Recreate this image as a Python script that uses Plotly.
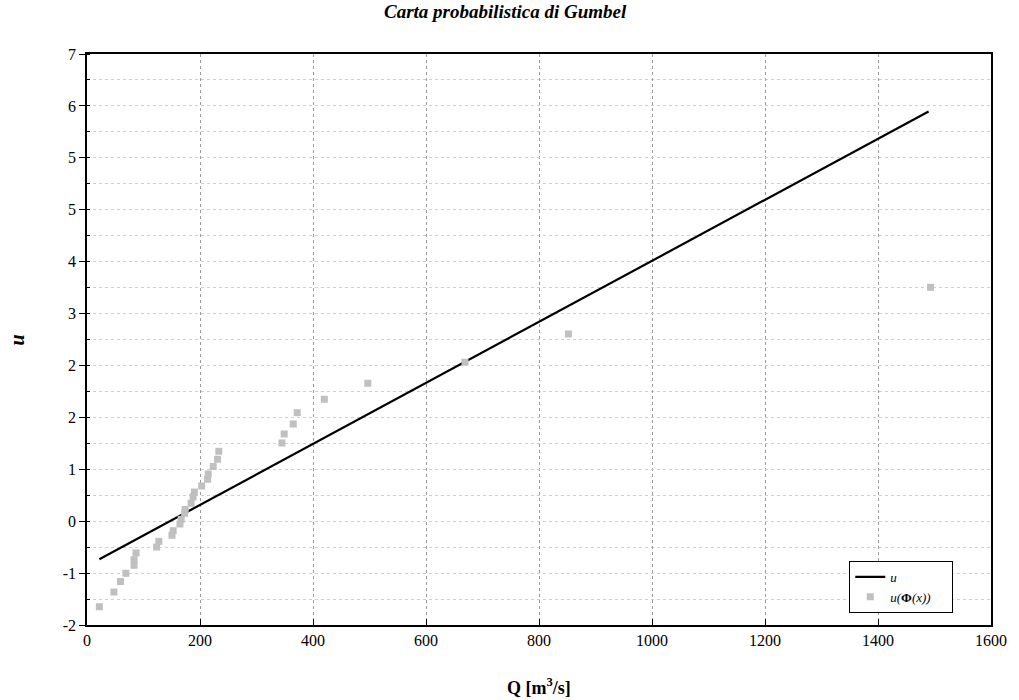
import plotly.graph_objects as go

# Observed data: discharge Q [m3/s] and reduced variate (axis units)
q_obs = [21.9, 47.7, 59.3, 68.8, 83.3, 83.3, 86.8, 123.2, 127.2, 150.4, 152.6,
         164.6, 166.7, 172.8, 173.7, 184.2, 187.7, 190.0, 203.0, 213.5, 214.6,
         223.3, 231.0, 233.3, 345.0, 349.0, 365.0, 372.0, 420.0, 497.0, 669.0,
         852.0, 1493.0]
u_obs = [-1.712, -1.480, -1.314, -1.185, -1.059, -0.971, -0.865, -0.771, -0.681,
         -0.586, -0.514, -0.408, -0.334, -0.239, -0.179, -0.082, 0.018, 0.096,
         0.191, 0.297, 0.380, 0.498, 0.612, 0.738, 0.869, 1.011, 1.168, 1.346,
         1.558, 1.810, 2.141, 2.587, 3.323]

# Fitted Gumbel line
q_line = [21.9, 1489.5]
u_line = [-0.964, 6.094]

# Y tick labels as printed on the chart
y_min, y_max = -2, 7
y_ticktext = ["-2", "-1", "0", "1", "2", "2", "3", "4", "5", "5", "6", "7"]
n = len(y_ticktext) - 1
y_tickvals = [y_min + k * (y_max - y_min) / n for k in range(n + 1)]

x_tickvals = [0, 200, 400, 600, 800, 1000, 1200, 1400, 1600]

SERIF = "Liberation Serif"

W, H = 1019, 700
L, R, T, B = 87, 20, 54, 75
PW, PH = W - L - R, H - T - B


def px(xp):
    return (xp - L) / PW


def py(yp):
    return (H - B - yp) / PH


fig = go.Figure()
fig.add_trace(go.Scatter(
    x=q_line, y=u_line, mode="lines", name="<i>u</i>",
    line=dict(color="black", width=2.2),
))
fig.add_trace(go.Scatter(
    x=q_obs, y=u_obs, mode="markers",
    name="<i>u(</i><b>Φ</b><i>(x))</i>&nbsp;&nbsp;&nbsp;&nbsp;&nbsp;",
    marker=dict(symbol="square", size=7, color="#c0c0c0", line=dict(width=0)),
))

fig.update_layout(
    width=W, height=H,
    margin=dict(l=L, r=R, t=T, b=B),
    paper_bgcolor="white", plot_bgcolor="white",
    font=dict(family=SERIF, size=16, color="black"),
    showlegend=True,
    legend=dict(
        x=px(856), y=py(613), xanchor="left", yanchor="bottom",
        bgcolor="white", bordercolor="black", borderwidth=1,
        font=dict(family=SERIF, size=13),
        tracegroupgap=0, itemwidth=30,
    ),
    annotations=[
        dict(text="<b><i>Carta probabilistica di Gumbel</i></b>", x=px(509), y=py(12),
             xref="paper", yref="paper", xanchor="center", yanchor="middle",
             showarrow=False, font=dict(family=SERIF, size=19)),
        dict(text="<b>Q [m<sup>3</sup>/s]</b>", x=px(543), y=py(686),
             xref="paper", yref="paper", xanchor="center", yanchor="middle",
             showarrow=False, font=dict(family=SERIF, size=18)),
        dict(text="<b><i>u</i></b>", x=px(16), y=py(340),
             xref="paper", yref="paper", xanchor="center", yanchor="middle",
             textangle=-90, showarrow=False, font=dict(family=SERIF, size=20)),
    ],
)

fig.update_xaxes(
    range=[0, 1600], tickmode="array", tickvals=x_tickvals,
    showline=True, linecolor="black", linewidth=1.5, mirror=True,
    ticks="inside", ticklen=6, tickcolor="black",
    showgrid=True, gridcolor="#9a9a9a", griddash="dot", gridwidth=1,
    zeroline=False, tickfont=dict(family=SERIF, size=16),
)
fig.update_yaxes(
    range=[y_min, y_max], tickmode="array", tickvals=y_tickvals, ticktext=y_ticktext,
    showline=True, linecolor="black", linewidth=1.5, mirror=True,
    ticks="outside", ticklen=6, tickcolor="black",
    showgrid=True, gridcolor="#cfcfcf", griddash="dot", gridwidth=1,
    zeroline=False, tickfont=dict(family=SERIF, size=16),
    minor=dict(tickmode="linear", tick0=y_min, dtick=(y_max - y_min) / (2 * n),
               ticks="inside", ticklen=3, tickcolor="black",
               showgrid=True, gridcolor="#cfcfcf", griddash="dot", gridwidth=1),
)

fig.write_html("out.html")
